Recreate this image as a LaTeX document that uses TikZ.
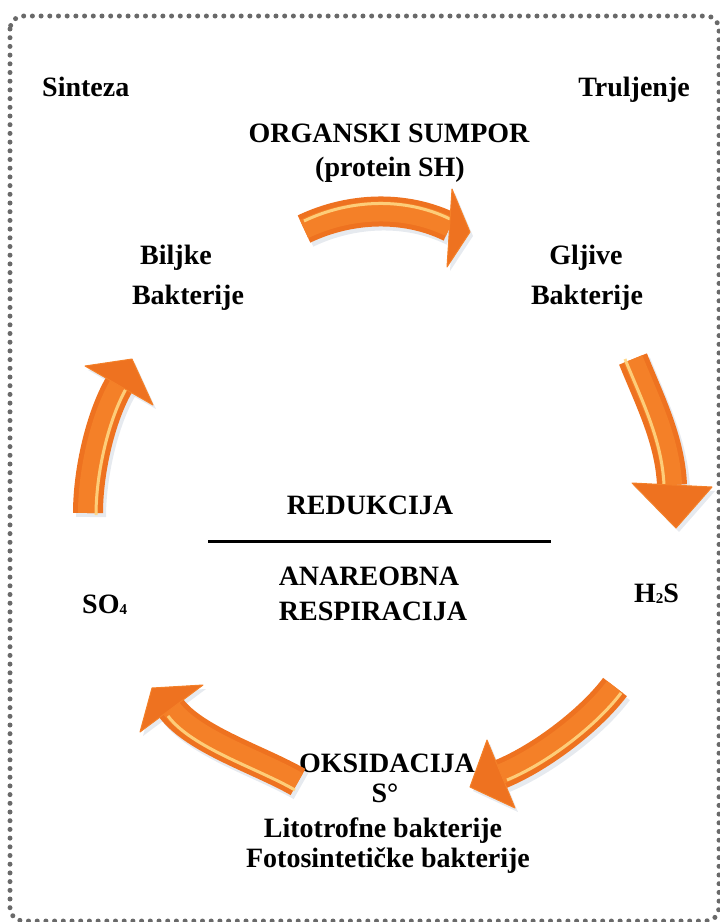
\documentclass[tikz,border=0pt]{standalone}
\usepackage{fontspec}
\setmainfont{Liberation Serif}
\definecolor{aorange}{RGB}{238,114,32}
\definecolor{amid}{RGB}{244,128,40}
\definecolor{ahigh}{RGB}{255,214,130}
\definecolor{ashadow}{RGB}{210,216,226}
\definecolor{dotgray}{RGB}{105,105,105}
\tikzset{
  lbl/.style={font=\fontsize{28}{34}\selectfont\bfseries, inner sep=0pt, anchor=base},
  bodyshadow/.style={line width=30pt, ashadow, opacity=.55},
  bodymain/.style={line width=30pt, aorange},
  bodymid/.style={line width=20pt, amid},
  bodyhigh/.style={line width=3pt, ahigh, opacity=.9},
  headmain/.style={fill=aorange, draw=amid, line width=1pt, line join=round},
  headhigh/.style={draw=ahigh, line width=2.5pt, line cap=round, opacity=.9},
  headshadow/.style={fill=ashadow, opacity=.55},
}
\newcommand\orangearrow[6]{%
  % #1 tail, #2 path controls/end, #3 head vertex 1, #4 tip, #5 head vertex 2, #6 highlight shift
  \begin{scope}[shift={(3,4)}]
    \draw[bodyshadow] #1 #2;
    \fill[headshadow] #3 -- #4 -- #5 -- cycle;
  \end{scope}
  \draw[bodymain] #1 #2;
  \draw[bodymid] #1 #2;
  \begin{scope}[shift={#6}]
    \draw[bodyhigh] #1 #2;
  \end{scope}
  \draw[headmain] #3 -- #4 -- #5 -- cycle;
}
\begin{document}
\begin{tikzpicture}[x=1pt,y=-1pt]
\useasboundingbox (0,0) rectangle (720,922);
% dotted frame
\draw[dotgray, line width=5pt, line cap=round, dash pattern=on 0pt off 8.7pt, rounded corners=13pt]
  (10,16) rectangle (719,921);

% labels
\node[lbl, anchor=base west] (sint) at (42,96) {Sinteza};
\node[lbl, anchor=base east] (trul) at (690,96) {Truljenje};
\node[lbl] (org1) at (389,142) {ORGANSKI SUMPOR};
\node[lbl] (org2) at (390,176) {(protein SH)};
\node[lbl] (bil1) at (176,264) {Biljke};
\node[lbl] (bil2) at (188,304) {Bakterije};
\node[lbl] (glj1) at (586,264) {Gljive};
\node[lbl] (glj2) at (587,304) {Bakterije};
\node[lbl] (red) at (370,514) {REDUKCIJA};
\coordinate (lineL) at (208,541);
\coordinate (lineR) at (551,541);
\draw[line width=3pt] (lineL) -- (lineR);
\node[lbl] (ana1) at (369,585) {ANAREOBNA};
\node[lbl] (ana2) at (373,620) {RESPIRACIJA};
\node[lbl, anchor=base west] (so4) at (82,613) {SO\raisebox{-1pt}{\fontsize{15}{15}\selectfont 4}};
\node[lbl, anchor=base west] (h2s) at (634,602) {H\raisebox{-1pt}{\fontsize{15}{15}\selectfont 2}S};
\node[lbl] (oks) at (387,772) {OKSIDACIJA};
\node[lbl] (s0) at (385,802) {S°};
\node[lbl] (lit) at (383,837) {Litotrofne bakterije};
\node[lbl] (fot) at (388,867) {Fotosintetičke bakterije};

% arrows
\orangearrow{(304,229)}{.. controls (350,207) and (405,205) .. (450,227)}{(452,189)}{(470,232)}{(447,267)}{(0,-8)}
\orangearrow{(633,359)}{.. controls (650,401) and (670,440) .. (672,485)}{(632,483)}{(676,528)}{(712,487)}{(-8,0)}
\orangearrow{(88,513)}{.. controls (88,470) and (101,416) .. (119,385)}{(85,366)}{(132,359)}{(153,405)}{(8,2)}
\orangearrow{(615,687)}{.. controls (591,719) and (542,757) .. (501,774)}{(487,740)}{(470,787)}{(515,808)}{(6,6)}
\orangearrow{(298,782)}{.. controls (260,760) and (195,740) .. (171,708)}{(203,685)}{(152,688)}{(140,732)}{(-3,8)}
\end{tikzpicture}
\end{document}
